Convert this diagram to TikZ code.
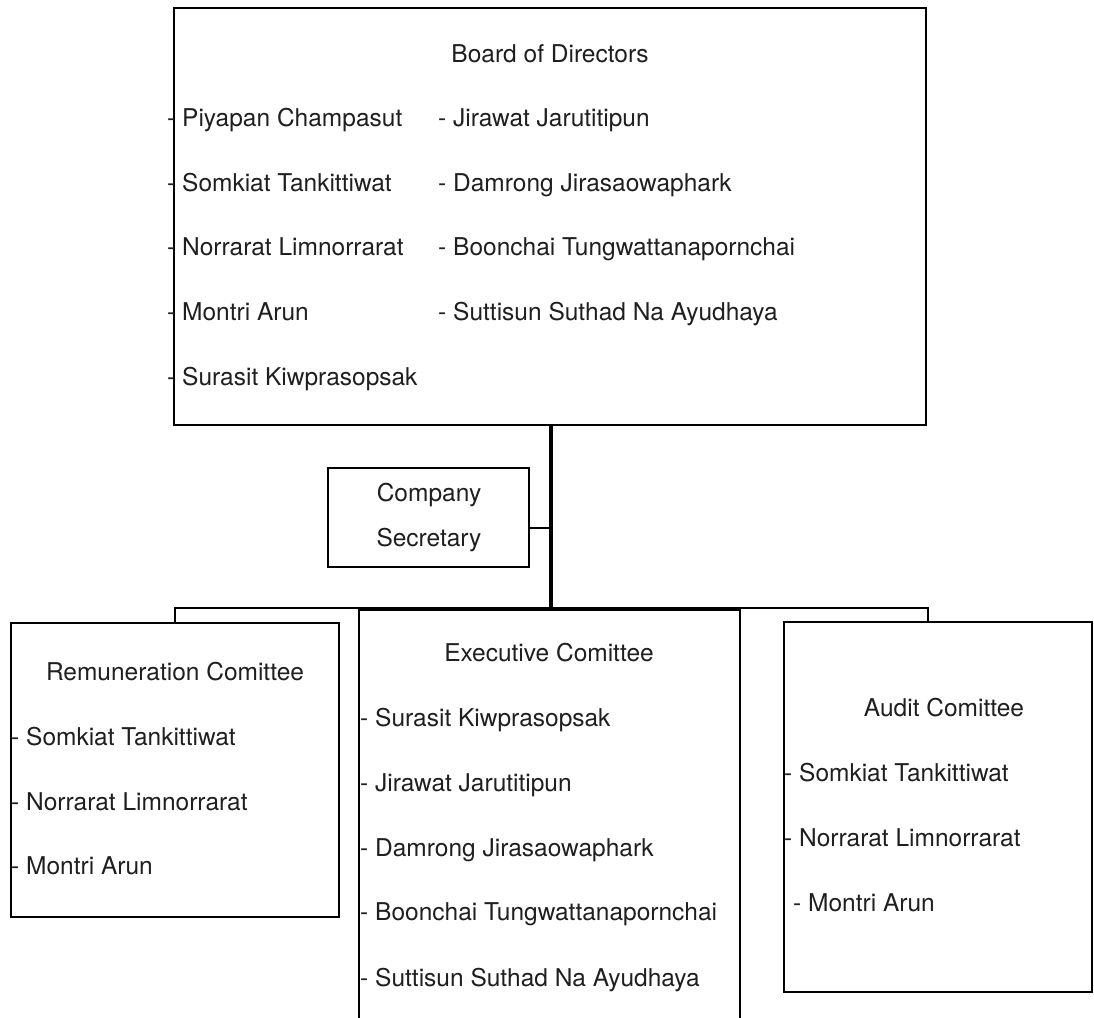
\documentclass[tikz,border=0pt]{standalone}
\usepackage{fontspec}
\setmainfont{TeX Gyre Heros}
\begin{document}
\begin{tikzpicture}[x=1pt,y=-1pt,
  box/.style={draw, line width=2pt, inner sep=0pt},
  txt/.style={anchor=base west, inner sep=0pt, text=black!88, font=\fontsize{24.5}{28}\selectfont},
  ctxt/.style={anchor=base, inner sep=0pt, text=black!88, font=\fontsize{24.5}{28}\selectfont},
  link/.style={line width=2pt},
  trunk/.style={line width=3.5pt}]
\useasboundingbox[fill=white] (0,0) rectangle (1094,1017);
% boxes
\node[box, minimum width=752pt, minimum height=417pt] (board) at (550,216.5) {};
\node[box, minimum width=201pt, minimum height=99pt] (sec) at (428.5,517.5) {};
\node[box, minimum width=328pt, minimum height=294pt] (rem) at (175,770) {};
\node[box, minimum width=381pt, minimum height=490pt] (exec) at (549.5,855) {};
\node[box, minimum width=308pt, minimum height=370pt] (audit) at (938,807) {};
% connectors
\coordinate (busmid) at (551,608);
\coordinate (secj) at (551,528);
\coordinate (busL) at (175,608);
\coordinate (busR) at (928,608);
\draw[trunk] (board.south -| busmid) -- (busmid);
\draw[link] (sec.east |- secj) -- (secj);
\draw[link] (rem.north -| busL) -- (busL) -- (busR) -- (audit.north -| busR);
\draw[trunk] (exec.north west) -- (exec.north east);
% Board text
\node[ctxt] (bt) at (550,62) {Board of Directors};
\node[txt] (b1) at (167,126) {- Piyapan Champasut};
\node[txt] (b2) at (167,191) {- Somkiat Tankittiwat};
\node[txt] (b3) at (167,255) {- Norrarat Limnorrarat};
\node[txt] (b4) at (167,320) {- Montri Arun};
\node[txt] (b5) at (167,385) {- Surasit Kiwprasopsak};
\node[txt] (b6) at (438,126) {- Jirawat Jarutitipun};
\node[txt] (b7) at (438,191) {- Damrong Jirasaowaphark};
\node[txt] (b8) at (438,255) {- Boonchai Tungwattanapornchai};
\node[txt] (b9) at (438,320) {- Suttisun Suthad Na Ayudhaya};
% Secretary
\node[ctxt] (s1) at (429,501) {Company};
\node[ctxt] (s2) at (429,546) {Secretary};
% Remuneration
\node[ctxt] (rt) at (175,680) {Remuneration Comittee};
\node[txt] (r1) at (11,745) {- Somkiat Tankittiwat};
\node[txt] (r2) at (11,810) {- Norrarat Limnorrarat};
\node[txt] (r3) at (11,874) {- Montri Arun};
% Executive
\node[ctxt] (et) at (549,661) {Executive Comittee};
\node[txt] (e1) at (360,726) {- Surasit Kiwprasopsak};
\node[txt] (e2) at (360,791) {- Jirawat Jarutitipun};
\node[txt] (e3) at (360,856) {- Damrong Jirasaowaphark};
\node[txt] (e4) at (360,920) {- Boonchai Tungwattanapornchai};
\node[txt] (e5) at (360,986) {- Suttisun Suthad Na Ayudhaya};
% Audit
\node[ctxt] (at) at (944,716) {Audit Comittee};
\node[txt] (a1) at (784,781) {- Somkiat Tankittiwat};
\node[txt] (a2) at (784,846) {- Norrarat Limnorrarat};
\node[txt] (a3) at (793,911) {- Montri Arun};
\end{tikzpicture}
\end{document}
